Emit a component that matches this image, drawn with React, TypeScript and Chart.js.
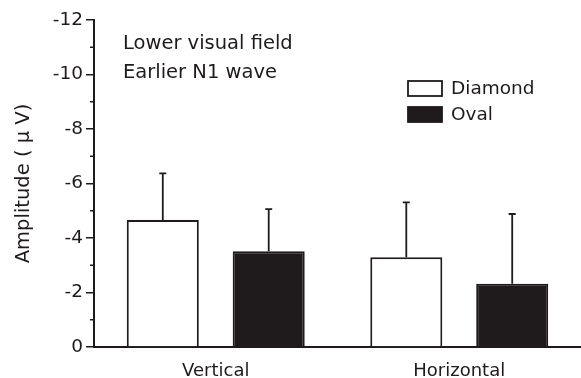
import React, { useEffect, useRef } from "react";
import { Chart, registerables } from "chart.js";

Chart.register(...registerables);

const categories = ["Vertical", "Horizontal"];
const diamondMeans = [-4.66, -3.29];
const ovalMeans = [-3.51, -2.32];
const diamondSD = [1.71, 2.02];
const ovalSD = [1.55, 2.56];
const annotationLines = ["Lower visual field", "Earlier N1 wave"];
const yTitle = "Amplitude ( \u03bc V)";

const INK = "#1f1b1c";
const FONT = "'DejaVu Sans', Verdana, sans-serif";

const extrasPlugin = {
  id: "extras",
  afterDatasetsDraw(chart: any) {
    const ctx = chart.ctx;
    const y = chart.scales.y;
    const sds = [diamondSD, ovalSD];
    ctx.save();
    ctx.strokeStyle = INK;
    ctx.lineWidth = 1.8;
    chart.data.datasets.forEach((ds: any, di: number) => {
      const meta = chart.getDatasetMeta(di);
      meta.data.forEach((bar: any, i: number) => {
        const v = ds.data[i];
        const top = y.getPixelForValue(v - sds[di][i]);
        const start = y.getPixelForValue(v);
        ctx.beginPath();
        ctx.moveTo(bar.x, start);
        ctx.lineTo(bar.x, top);
        ctx.moveTo(bar.x - 3.5, top);
        ctx.lineTo(bar.x + 3.5, top);
        ctx.stroke();
      });
    });
    // minor ticks on y axis
    ctx.lineWidth = 1.5;
    for (let v = -11; v < 0; v += 2) {
      const py = y.getPixelForValue(v);
      ctx.beginPath();
      ctx.moveTo(chart.chartArea.left - 4, py);
      ctx.lineTo(chart.chartArea.left, py);
      ctx.stroke();
    }
    // annotation
    ctx.fillStyle = INK;
    ctx.font = `19.5px ${FONT}`;
    ctx.textAlign = "left";
    ctx.textBaseline = "middle";
    ctx.fillText(annotationLines[0], 123, 44);
    ctx.fillText(annotationLines[1], 123, 73);
    // legend
    const boxes = [
      { y: 81, label: chart.data.datasets[0].label, fill: chart.data.datasets[0].backgroundColor },
      { y: 107, label: chart.data.datasets[1].label, fill: chart.data.datasets[1].backgroundColor },
    ];
    ctx.font = `18.5px ${FONT}`;
    boxes.forEach((b) => {
      ctx.fillStyle = b.fill;
      ctx.fillRect(408, b.y, 34, 15);
      ctx.strokeStyle = INK;
      ctx.lineWidth = 1.8;
      ctx.strokeRect(408, b.y, 34, 15);
      ctx.fillStyle = INK;
      ctx.fillText(b.label, 451, b.y + 8);
    });
    ctx.restore();
  },
};

export default function App() {
  const ref = useRef<HTMLCanvasElement>(null);
  useEffect(() => {
    const chart = new Chart(ref.current as HTMLCanvasElement, {
      type: "bar",
      data: {
        labels: categories,
        datasets: [
          {
            label: "Diamond",
            data: diamondMeans,
            backgroundColor: "#ffffff",
            borderColor: INK,
            borderWidth: 2,
            borderSkipped: "bottom",
          },
          {
            label: "Oval",
            data: ovalMeans,
            backgroundColor: INK,
            borderColor: INK,
            borderWidth: 2,
            borderSkipped: "bottom",
          },
        ],
      },
      options: {
        responsive: false,
        animation: false,
        layout: { padding: { top: 20, right: 0, left: 0, bottom: 0 } },
        categoryPercentage: 0.87,
        barPercentage: 0.68,
        plugins: { legend: { display: false }, tooltip: { enabled: false } },
        scales: {
          x: {
            grid: { display: false, drawTicks: false },
            border: { display: true, color: INK, width: 2 },
            ticks: { color: INK, font: { family: FONT, size: 18 }, padding: 14 },
            afterFit: (s: any) => {
              s.height = 31;
            },
          },
          y: {
            min: -12,
            max: 0,
            reverse: true,
            grid: { display: true, drawOnChartArea: false, drawTicks: true, tickLength: 8, color: INK, lineWidth: 1.5 },
            border: { display: true, color: INK, width: 2 },
            ticks: { stepSize: 2, color: INK, font: { family: FONT, size: 18.5 }, padding: 3 },
            title: { display: true, text: yTitle, color: INK, font: { family: FONT, size: 19.5 }, padding: { top: 12, bottom: 0 } },
            afterFit: (s: any) => {
              s.width = 94;
            },
          },
        },
      } as any,
      plugins: [extrasPlugin],
    });
    return () => chart.destroy();
  }, []);
  return (
    <div style={{ position: "fixed", left: 0, top: 0, width: 581, height: 378, background: "#fff" }}>
      <canvas ref={ref} width={581} height={378} />
    </div>
  );
}
